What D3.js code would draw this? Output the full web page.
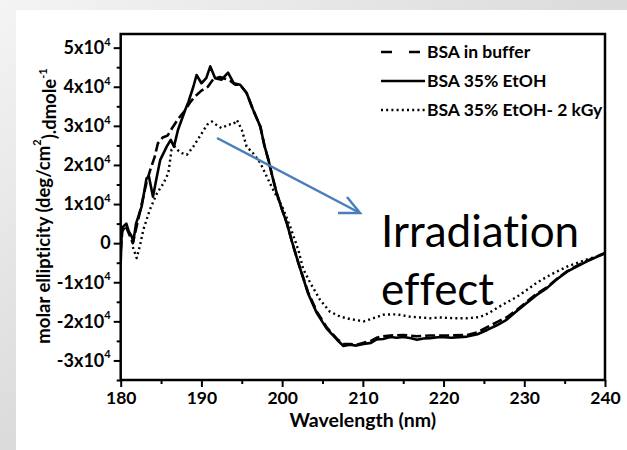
<!DOCTYPE html>
<html>
<head>
<meta charset="utf-8">
<script src="https://cdn.jsdelivr.net/npm/d3@7"></script>
<style>
    body { margin: 0; }
    svg { display: block; font-family: Lato, "Open Sans", sans-serif; font-variant-ligatures: none; }
</style>
</head>
<body>
<div id="chart"></div>
<script>
// BSA in buffer (dashed)
const bufferNm  = [180.0, 180.2, 180.6, 181.0, 181.5, 182.0, 182.6, 183.2, 183.7, 184.2, 184.6, 185.2, 185.8, 186.4, 187.2, 188.0, 188.6, 189.2, 190.0, 190.8, 191.5, 192.3, 193.0, 193.6, 194.2, 194.8, 195.6, 196.4, 197.3, 197.8, 198.3, 198.8, 199.3, 200.0, 200.6, 201.2, 202.0, 203.2, 204.3, 205.5, 206.8, 207.6, 208.4, 209.2, 210.1, 211.0, 211.7, 212.5, 213.4, 215.0, 216.7, 218.3, 219.6, 221.0, 222.9, 224.2, 225.4, 226.6, 227.8, 229.0, 230.3, 231.5, 232.8, 234.0, 235.3, 236.5, 237.7, 239.0, 240.0];
const bufferVal = [-0.2, 0.3, 0.45, 0.25, 0.0, 0.45, 1.0, 1.55, 1.9, 2.2, 2.55, 2.7, 2.75, 2.95, 3.2, 3.4, 3.6, 3.75, 3.9, 4.0, 4.2, 4.25, 4.2, 4.15, 4.05, 4.05, 3.84, 3.41, 2.98, 2.5, 2.13, 1.7, 1.3, 0.85, 0.5, 0.05, -0.5, -1.25, -1.75, -2.15, -2.45, -2.58, -2.58, -2.6, -2.55, -2.5, -2.42, -2.38, -2.36, -2.35, -2.38, -2.36, -2.36, -2.36, -2.35, -2.28, -2.15, -2.02, -1.9, -1.72, -1.5, -1.3, -1.13, -0.92, -0.72, -0.58, -0.46, -0.34, -0.25];

// BSA 35% EtOH (solid)
const etohNm  = [180.0, 180.15, 180.3, 180.7, 181.0, 181.36, 181.56, 181.9, 182.6, 183.2, 183.5, 184.0, 184.4, 184.9, 185.7, 186.2, 186.6, 187.1, 188.0, 188.4, 189.0, 189.4, 190.0, 190.6, 191.1, 191.7, 192.5, 193.3, 194.0, 194.8, 195.6, 196.4, 197.3, 197.8, 198.3, 198.8, 199.3, 200.0, 200.6, 201.2, 202.0, 203.2, 204.3, 205.5, 206.8, 207.6, 208.4, 209.2, 210.1, 211.0, 211.7, 212.5, 213.4, 214.2, 215.0, 216.0, 216.7, 217.5, 218.3, 219.6, 221.0, 222.9, 224.2, 225.4, 226.6, 227.8, 229.0, 230.3, 231.5, 232.8, 234.0, 235.3, 236.5, 237.7, 239.0, 240.0];
const etohVal = [-0.5, 0.4, 0.42, 0.5, 0.3, 0.17, 0.04, 0.5, 0.94, 1.66, 1.7, 1.19, 1.62, 2.13, 2.47, 2.64, 2.47, 2.9, 3.41, 3.62, 4.0, 4.3, 4.09, 4.22, 4.52, 4.22, 4.18, 4.36, 4.09, 4.05, 3.84, 3.41, 2.98, 2.5, 2.13, 1.7, 1.3, 0.85, 0.5, 0.05, -0.5, -1.28, -1.79, -2.18, -2.47, -2.63, -2.6, -2.62, -2.58, -2.55, -2.46, -2.45, -2.4, -2.42, -2.4, -2.43, -2.47, -2.44, -2.43, -2.4, -2.42, -2.39, -2.33, -2.22, -2.1, -1.96, -1.75, -1.53, -1.33, -1.15, -0.93, -0.73, -0.6, -0.47, -0.35, -0.26];

// BSA 35% EtOH- 2 kGy (dotted)
const irrNm  = [181.5, 181.98, 182.4, 182.8, 183.6, 184.5, 185.3, 185.9, 186.3, 186.7, 187.2, 187.6, 188.2, 189.0, 189.8, 190.7, 191.3, 192.0, 192.5, 193.3, 194.0, 194.4, 195.0, 195.6, 196.4, 197.3, 198.1, 198.9, 200.0, 201.0, 202.0, 202.6, 203.5, 204.7, 205.9, 207.2, 208.4, 210.1, 211.3, 212.5, 214.2, 215.8, 217.1, 218.3, 219.5, 221.2, 222.9, 224.5, 225.5, 226.6, 227.8, 229.1, 230.3, 231.5, 232.8, 234.0, 235.3, 236.5, 237.7, 239.0, 240.0];
const irrVal = [-0.1, -0.38, -0.05, 0.34, 0.85, 1.28, 1.53, 1.79, 2.39, 2.47, 2.35, 2.3, 2.26, 2.47, 2.73, 3.03, 3.11, 3.0, 2.94, 3.03, 3.05, 3.15, 2.9, 2.47, 2.3, 2.05, 1.7, 1.36, 0.94, 0.42, -0.17, -0.66, -1.02, -1.45, -1.75, -1.88, -1.94, -2.0, -1.92, -1.83, -1.82, -1.88, -1.9, -1.92, -1.9, -1.92, -1.92, -1.89, -1.8, -1.66, -1.52, -1.37, -1.2, -1.02, -0.86, -0.73, -0.6, -0.51, -0.42, -0.34, -0.27];

const xTicks = [180, 190, 200, 210, 220, 230, 240];
const xMinor = [185, 195, 205, 215, 225, 235];
const yTicks = [-3, -2, -1, 0, 1, 2, 3, 4, 5];
const yMinor = [-3.5, -2.5, -1.5, -0.5, 0.5, 1.5, 2.5, 3.5, 4.5];
const legendLabels = ["BSA in buffer", "BSA 35% EtOH", "BSA 35% EtOH- 2 kGy"];

const W = 627, H = 450;
const box = { left: 120.7, right: 605, top: 34, bottom: 380 };
const pxPerUnit = 39.1;

const svg = d3.select("#chart").append("svg")
    .attr("width", W)
    .attr("height", H);

const defs = svg.append("defs");
const bg = defs.append("linearGradient")
    .attr("id", "bg")
    .attr("x1", 0).attr("y1", 0).attr("x2", 1).attr("y2", 1);
bg.append("stop").attr("offset", "0%").attr("stop-color", "#f4f4f4");
bg.append("stop").attr("offset", "100%").attr("stop-color", "#c2c2c2");

defs.append("clipPath").attr("id", "clip")
    .append("rect")
    .attr("x", box.left).attr("y", box.top)
    .attr("width", box.right - box.left)
    .attr("height", box.bottom - box.top);

svg.append("rect").attr("width", W).attr("height", H).attr("fill", "url(#bg)");
svg.append("rect")
    .attr("x", 16).attr("y", 10)
    .attr("width", W - 16).attr("height", H - 10)
    .attr("fill", "#fff");

const x = d3.scaleLinear().domain([180, 240]).range([box.left, box.right]);
const y = d3.scaleLinear()
    .domain([-3.5, -3.5 + (box.bottom - box.top) / pxPerUnit])
    .range([box.bottom, box.top]);

// minor ticks
svg.append("g")
    .attr("transform", `translate(0, ${box.bottom})`)
    .call(d3.axisBottom(x).tickValues(xMinor).tickSize(4).tickFormat(""))
    .call(g => g.select(".domain").remove());
svg.append("g")
    .attr("transform", `translate(${box.left}, 0)`)
    .call(d3.axisLeft(y).tickValues(yMinor).tickSize(4).tickFormat(""))
    .call(g => g.select(".domain").remove());

// major ticks
const xAxis = svg.append("g")
    .attr("transform", `translate(0, ${box.bottom})`)
    .call(d3.axisBottom(x).tickValues(xTicks).tickSize(7).tickPadding(5))
    .call(g => g.select(".domain").remove());

const yAxis = svg.append("g")
    .attr("transform", `translate(${box.left}, 0)`)
    .call(d3.axisLeft(y).tickValues(yTicks).tickSize(7).tickPadding(3))
    .call(g => g.select(".domain").remove());

svg.selectAll(".tick line").attr("stroke", "#000").attr("stroke-width", 2);

xAxis.selectAll("text")
    .attr("font-family", "Lato, sans-serif")
    .attr("font-size", 17.5)
    .attr("font-weight", "bold")
    .attr("fill", "#000");

yAxis.selectAll("text")
    .attr("font-family", "Lato, sans-serif")
    .attr("font-size", 18)
    .attr("font-weight", "bold")
    .attr("fill", "#000")
    .each(function (d) {
        const t = d3.select(this).text("");
        if (d === 0) { t.text("0"); return; }
        t.append("tspan").text(`${d}x10`);
        t.append("tspan").attr("font-size", 11).attr("dy", "-0.75em").text("4");
    });

// frame
svg.append("rect")
    .attr("x", box.left).attr("y", box.top)
    .attr("width", box.right - box.left)
    .attr("height", box.bottom - box.top)
    .attr("fill", "none")
    .attr("stroke", "#000")
    .attr("stroke-width", 2.5);

// curves
const line = d3.line()
    .x(d => x(d[0]))
    .y(d => y(d[1]));

const curves = [
    { nm: bufferNm, val: bufferVal, dash: "10,4", width: 2.6 },
    { nm: etohNm, val: etohVal, dash: null, width: 2.6 },
    { nm: irrNm, val: irrVal, dash: "2,3.2", width: 2.4 },
];

const curveG = svg.append("g").attr("clip-path", "url(#clip)");
curves.forEach(c => {
    curveG.append("path")
        .datum(d3.zip(c.nm, c.val))
        .attr("d", line)
        .attr("fill", "none")
        .attr("stroke", "#000")
        .attr("stroke-width", c.width)
        .attr("stroke-linejoin", "round")
        .attr("stroke-dasharray", c.dash);
});

// legend
const legendDash = ["11,17", null, "2,3.2"];
const legend = svg.append("g");
legendLabels.forEach((label, i) => {
    const ly = 52 + i * 29;
    legend.append("line")
        .attr("x1", 381).attr("x2", 425)
        .attr("y1", ly).attr("y2", ly)
        .attr("stroke", "#000")
        .attr("stroke-width", 2.6)
        .attr("stroke-dasharray", legendDash[i]);
    legend.append("text")
        .attr("x", 427).attr("y", ly + 6)
        .attr("font-size", 17.5)
        .attr("font-weight", "bold")
        .text(label);
});

// axis titles
svg.append("text")
    .attr("x", (box.left + box.right) / 2)
    .attr("y", 427)
    .attr("text-anchor", "middle")
    .attr("font-size", 19.5)
    .attr("font-weight", "bold")
    .text("Wavelength (nm)");

const yTitle = svg.append("text")
    .attr("transform", "translate(50, 206) rotate(-90)")
    .attr("text-anchor", "middle")
    .attr("font-size", 18.5)
    .attr("font-weight", "bold");
yTitle.append("tspan").text("molar ellipticity (deg/cm");
yTitle.append("tspan").attr("font-size", 11).attr("dy", "-0.8em").text("2");
yTitle.append("tspan").attr("dy", "0.8em").text(").dmole");
yTitle.append("tspan").attr("font-size", 11).attr("dy", "-0.8em").text("-1");

// annotation
const blue = "#4a7ebb";
svg.append("line")
    .attr("x1", 217).attr("y1", 138)
    .attr("x2", 360).attr("y2", 213)
    .attr("stroke", blue).attr("stroke-width", 2.5);
svg.append("polyline")
    .attr("points", "338,213 360,213 347,197")
    .attr("fill", "none")
    .attr("stroke", blue).attr("stroke-width", 2.5);

svg.append("text")
    .attr("x", 381).attr("y", 247)
    .attr("font-size", 44)
    .text("Irradiation");
svg.append("text")
    .attr("x", 381).attr("y", 305)
    .attr("font-size", 44)
    .text("effect");
</script>
</body>
</html>
